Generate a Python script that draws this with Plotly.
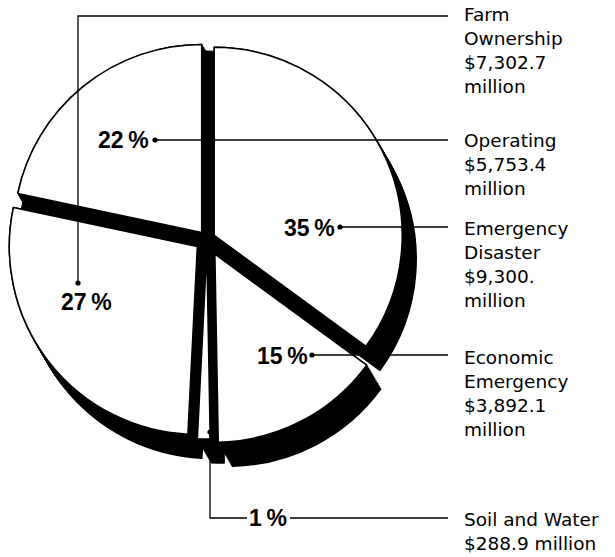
import plotly.graph_objects as go

# ---- data (clockwise from 12 o'clock) ----
programs = ["Emergency Disaster", "Economic Emergency", "Soil and Water",
            "Farm Ownership", "Operating"]
amounts = [9300.0, 3892.1, 288.9, 7302.7, 5753.4]          # $ million
published_pct = [35, 15, 1, 27, 22]                         # as printed
label_blocks = [
    ["Emergency", "Disaster", "$9,300.", "million"],
    ["Economic", "Emergency", "$3,892.1", "million"],
    ["Soil and Water", "$288.9 million"],
    ["Farm", "Ownership", "$7,302.7", "million"],
    ["Operating", "$5,753.4", "million"],
]

W, H = 615, 557


def px(x):
    return x / W


def py(y):
    return 1 - y / H


# ---- pie geometry / style (pixels) ----
CX, CY, R = 207, 239, 188
PULL = [0.043, 0.091, 0.064, 0.065, 0.045]     # explosion of each slice
HALF = R * (1 + max(PULL))
SHADOW = (14, 24)    # extrusion direction (px, right/down)
N_LAYERS = 14

fig = go.Figure()


def domain(ox, oy, half):
    return dict(x=[px(CX - half + ox), px(CX + half + ox)],
                y=[py(CY + half + oy), py(CY - half + oy)])


# black base (unexploded) so the centre gaps read as solid black
fig.add_trace(go.Pie(
    labels=programs, values=amounts, sort=False, direction="clockwise",
    rotation=0, domain=domain(0, 0, R),
    marker=dict(colors=["black"] * len(amounts), line=dict(color="black", width=1)),
    textinfo="none", hoverinfo="skip", showlegend=False,
))

# black extruded shadow
for k in range(N_LAYERS, -1, -1):
    ox = SHADOW[0] * k / N_LAYERS
    oy = SHADOW[1] * k / N_LAYERS
    fig.add_trace(go.Pie(
        labels=programs, values=amounts, sort=False, direction="clockwise",
        rotation=0, pull=PULL, domain=domain(ox, oy, HALF),
        marker=dict(colors=["black"] * len(amounts),
                    line=dict(color="black", width=1.5)),
        textinfo="none", hoverinfo="skip", showlegend=False,
    ))

# white top face
fig.add_trace(go.Pie(
    labels=programs, values=amounts, sort=False, direction="clockwise",
    rotation=0, pull=PULL, domain=domain(0, 0, HALF),
    marker=dict(colors=["white"] * len(amounts),
                line=dict(color="black", width=1.5)),
    textinfo="none", hoverinfo="label+value", showlegend=False,
))

# ---- leader lines, dots and labels (layout positions in pixels) ----
LINE_END = 448
TEXT_X = 462
layout_pos = {
    "Emergency Disaster": dict(dot=(340, 227), pct=(309, 228),
                               path=[(340, 227), (LINE_END, 227)], ty=264),
    "Economic Emergency": dict(dot=(312, 355), pct=(282, 356),
                               path=[(312, 355), (LINE_END, 355)], ty=393),
    "Soil and Water": dict(dot=(210, 432), pct=(268, 518),
                           path=[(210, 432), (210, 518), (247, 518)],
                           path2=[(290, 518), (LINE_END, 518)], ty=531),
    "Farm Ownership": dict(dot=(78, 283), pct=(87, 302),
                           path=[(78, 283), (78, 16), (LINE_END, 16)], ty=50),
    "Operating": dict(dot=(155, 140), pct=(123, 140),
                      path=[(155, 140), (LINE_END, 140)], ty=164),
}

shapes = []
annotations = []


def path_str(pts):
    return "M " + " L ".join(f"{px(x)},{py(y)}" for x, y in pts)


for name, pct, block in zip(programs, published_pct, label_blocks):
    p = layout_pos[name]
    for key in ("path", "path2"):
        if key in p:
            shapes.append(dict(type="path", xref="paper", yref="paper",
                               path=path_str(p[key]),
                               line=dict(color="black", width=1.3)))
    dx, dy = p["dot"]
    r = 2.6
    shapes.append(dict(type="circle", xref="paper", yref="paper",
                       x0=px(dx - r), x1=px(dx + r), y0=py(dy + r), y1=py(dy - r),
                       fillcolor="black", line=dict(color="black", width=0)))
    annotations.append(dict(
        x=px(p["pct"][0]), y=py(p["pct"][1]), xref="paper", yref="paper",
        text=f"<b>{pct}\u2009%</b>", showarrow=False,
        xanchor="center", yanchor="middle",
        font=dict(family="Liberation Sans", size=23, color="black"),
    ))
    annotations.append(dict(
        x=px(TEXT_X), y=py(p["ty"]), xref="paper", yref="paper",
        text="<br>".join(block), showarrow=False, align="left",
        xanchor="left", yanchor="middle",
        font=dict(family="DejaVu Sans", size=18.5, color="black"),
    ))

fig.update_layout(
    width=W, height=H,
    margin=dict(l=0, r=0, t=0, b=0),
    paper_bgcolor="white", plot_bgcolor="white",
    shapes=shapes, annotations=annotations,
    showlegend=False,
)

fig.write_html("out.html")
